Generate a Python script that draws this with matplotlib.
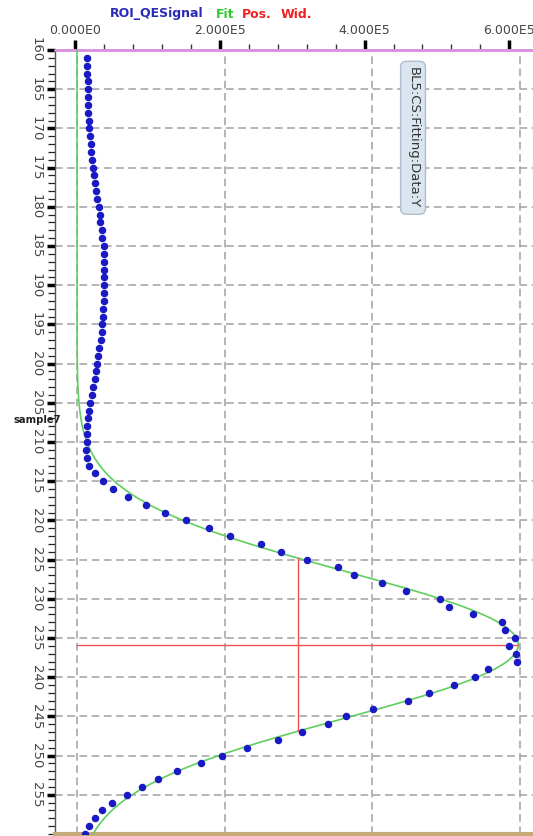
import numpy as np
import matplotlib
matplotlib.use("Agg")
import matplotlib.pyplot as plt
from matplotlib.ticker import FuncFormatter, MultipleLocator
from math import floor, log10

# sample positions and measured ROI signal (in units of 1e3 counts)
sample = list(range(161, 261))
signal_k = [
    14.0, 14.0, 14.0, 14.5, 14.5, 14.9, 15.3, 15.6, 15.9, 16.7,
    17.6, 18.6, 19.4, 20.3, 21.3, 23.1, 24.4, 25.8, 27.5, 29.8,
    31.2, 31.6, 33.9, 34.3, 36.2, 37.0, 37.0, 37.0, 37.0, 37.0,
    36.6, 36.2, 35.7, 35.3, 34.3, 33.5, 32.1, 30.2, 28.9, 27.1,
    25.8, 24.4, 22.1, 19.9, 18.3, 16.7, 15.3, 14.0, 14.0, 13.2,
    12.2, 13.2, 16.7, 24.0, 34.8, 49.2, 69.6, 93.6, 119.7, 147.8,
    179.4, 207.5, 249.9, 276.2, 312.3, 354.3, 376.0, 413.2, 446.1, 492.2,
    504.8, 536.6, 576.3, 579.4, 593.9, 584.8, 595.3, 596.2, 556.4, 539.7,
    511.2, 477.7, 449.2, 401.0, 364.4, 339.9, 304.7, 272.2, 230.1, 196.2,
    167.7, 135.6, 110.2, 87.7, 67.8, 47.9, 33.9, 24.4, 16.7, 10.8,
]
signal = np.array(signal_k) * 1e3

# gaussian fit result: amplitude, position (centre), width (FWHM)
fit_amp = 5.98e5
fit_pos = 235.85
fit_wid = 22.1

x_ticks = [0, 2e5, 4e5, 6e5]
y_major = list(range(160, 260, 5))


def sci(v, pos=None):
    if v == 0:
        return "0.000E0"
    e = int(floor(log10(abs(v))))
    return f"{v / 10**e:.3f}E{e}"


fig = plt.figure(figsize=(5.33, 8.36), dpi=100)
ax = fig.add_axes([55 / 533, 2 / 836, 478 / 533, 784 / 836])

# fit curve
yy = np.linspace(160, 260, 600)
sigma = fit_wid / (2 * np.sqrt(2 * np.log(2)))
fit = fit_amp * np.exp(-(yy - fit_pos) ** 2 / (2 * sigma ** 2))
ax.plot(fit, yy, color="#5fcf5f", lw=1.2, zorder=3)

# position / width markers
ax.plot([0, fit_amp], [fit_pos, fit_pos], color="#f05050", lw=1.0, zorder=3)
ax.plot([fit_amp / 2, fit_amp / 2], [fit_pos - fit_wid / 2, fit_pos + fit_wid / 2],
        color="#f05050", lw=1.0, zorder=3)

ax.plot(signal, sample, "o", color="#1a1ac4", ms=4.4, zorder=4, clip_on=True)

ax.set_xlim(-29.8e3, 618e3)
ax.set_ylim(260, 160)

ax.set_xticks(x_ticks)
ax.tick_params(axis="x", bottom=False, labelbottom=False, top=False)
ax.yaxis.set_minor_locator(MultipleLocator(1))
ax.set_yticks(y_major)
ax.tick_params(axis="y", which="major", direction="out", length=6, width=2.5,
               color="black", labelsize=9.5, labelcolor="#444444", labelrotation=-90, pad=3)
ax.tick_params(axis="y", which="minor", direction="out", length=5, width=0.9, color="#222222")
for lab in ax.get_yticklabels():
    lab.set_va("center")
    lab.set_family(["Liberation Sans Narrow", "DejaVu Sans"])

ax.grid(True, which="major", color="#a0a0a0", ls=(0, (5, 3)), lw=1.1, zorder=0)

ax.spines["right"].set_visible(False)
ax.spines["left"].set_color("#555555")
ax.spines["left"].set_linewidth(1.0)
ax.spines["bottom"].set_color("#c4ab78")
ax.spines["bottom"].set_linewidth(3)
ax.spines["top"].set_color("#d890e0")
ax.spines["top"].set_linewidth(1.8)

# top value axis
top = ax.secondary_xaxis("top", functions=(lambda x: 2764 + x * 1.0193,
                                           lambda t: (t - 2764) / 1.0193))
top.set_xticks(x_ticks)
top.xaxis.set_minor_locator(MultipleLocator(4e4))
top.xaxis.set_major_formatter(FuncFormatter(sci))
top.tick_params(which="major", direction="out", length=7, width=2.5, color="black",
                labelsize=9, labelcolor="#444444", pad=2)
top.tick_params(which="minor", direction="out", length=4, width=1, color="#333333")
top.spines["top"].set_color("#d890e0")
top.spines["top"].set_linewidth(1.8)

ax.text(0.749, 0.888, "BL5:CS:Fitting:Data:Y", transform=ax.transAxes,
        rotation=-90, ha="center", va="center", fontsize=9.5, color="#333333",
        bbox=dict(boxstyle="round,pad=0.45", fc="#dbe5f0", ec="#b0bccb", lw=1))

# legend row
legend_items = [("ROI_QESignal", "#2a2ab8", 110), ("Fit", "#30c830", 216),
                ("Pos.", "#ee2222", 242), ("Wid.", "#ee2222", 281)]
for txt, col, px in legend_items:
    fig.text(px / 533, 1 - 14 / 836, txt, color=col, fontsize=9, fontweight="bold",
             ha="left", va="center")

fig.text(13 / 533, 1 - 420 / 836, "sample7", fontsize=7.2, fontweight="bold",
         color="#222222", ha="left", va="center")

fig.savefig("out.png", dpi=100)
